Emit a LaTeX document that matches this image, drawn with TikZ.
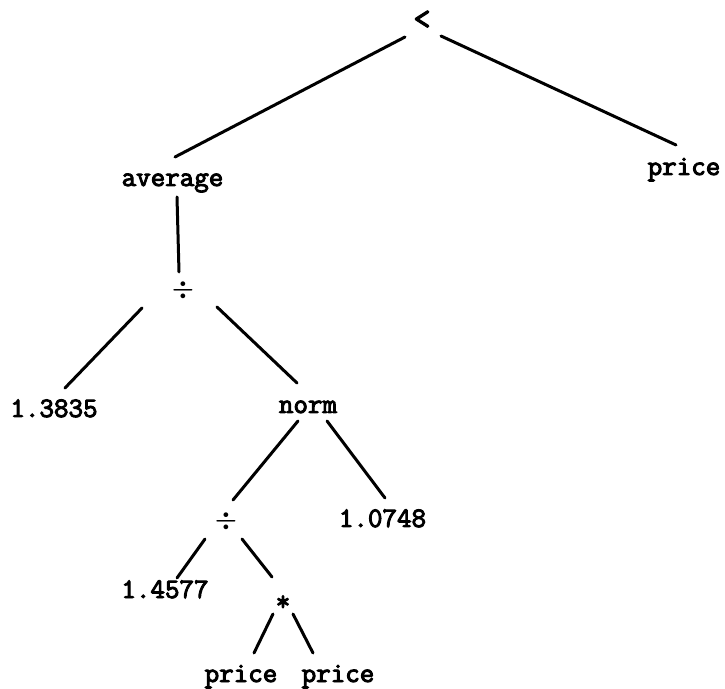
\documentclass[tikz,border=0pt]{standalone}
\usepackage{fontspec}
\newfontfamily\lmttbold{Latin Modern Mono}[FakeBold=3.5]
\begin{document}
\begin{tikzpicture}[x=1pt,y=1pt,
  lbl/.style={inner sep=0pt, anchor=base, font=\lmttbold\fontsize{28.2}{32}\selectfont},
  sym/.style={inner sep=0pt, anchor=center, font=\lmttbold\fontsize{28.2}{32}\selectfont},
  edge/.style={line width=3pt, line cap=round}]
\useasboundingbox (0,0) rectangle (725,688);
% nodes
\node[sym, font=\lmttbold\fontsize{33}{36}\selectfont] (lt) at (422,668) {<};
\node[lbl] (avg)  at (172.5,502) {average};
\node[lbl] (pr1)  at (684,513) {price};
\node[sym] (div1) at (183,398) {{\mathversion{bold}$\div$}};
\node[lbl] (n1)   at (54,271) {1.3835};
\node[lbl] (norm) at (308,275) {norm};
\node[sym] (div2) at (226,167) {{\mathversion{bold}$\div$}};
\node[lbl] (n2)   at (382.5,161) {1.0748};
\node[lbl] (n3)   at (165,90) {1.4577};
\node[sym] (star) at (283,85) {*};
\node[lbl] (p2)   at (241,6) {price};
\node[lbl] (p3)   at (338,6) {price};
% edges
\draw[edge] ([shift={(-17pt,-17pt)}]lt.center) -- ([shift={(2.5pt,29pt)}]avg.base);
\draw[edge] ([shift={(19pt,-16pt)}]lt.center) -- ([shift={(-8pt,30pt)}]pr1.base);
\draw[edge] ([shift={(4.5pt,-11pt)}]avg.base) -- ([shift={(-4pt,18pt)}]div1.center);
\draw[edge] ([shift={(-41pt,-18pt)}]div1.center) -- ([shift={(11pt,29pt)}]n1.base);
\draw[edge] ([shift={(34pt,-17pt)}]div1.center) -- ([shift={(-11pt,30pt)}]norm.base);
\draw[edge] ([shift={(-10pt,-8pt)}]norm.base) -- ([shift={(7pt,21pt)}]div2.center);
\draw[edge] ([shift={(19pt,-8pt)}]norm.base) -- ([shift={(2.5pt,29pt)}]n2.base);
\draw[edge] ([shift={(-21pt,-18pt)}]div2.center) -- ([shift={(12pt,20pt)}]n3.base);
\draw[edge] ([shift={(16pt,-18pt)}]div2.center) -- ([shift={(-11pt,26pt)}]star.center);
\draw[edge] ([shift={(-10pt,-11pt)}]star.center) -- ([shift={(13pt,29pt)}]p2.base);
\draw[edge] ([shift={(10pt,-11pt)}]star.center) -- ([shift={(-25pt,29pt)}]p3.base);
\end{tikzpicture}
\end{document}
